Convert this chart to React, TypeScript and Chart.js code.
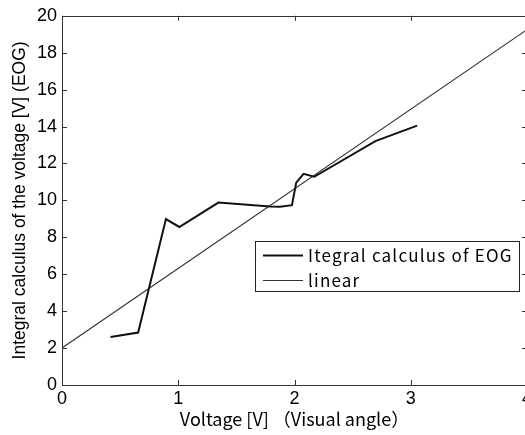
import React, { useEffect, useRef } from "react";
import { Chart, registerables } from "chart.js";

Chart.register(...registerables);

const eogX = [0.417, 0.655, 0.894, 1.009, 1.345, 1.79, 1.877, 1.978, 2.015, 2.078, 2.17, 2.696, 3.055];
const eogY = [2.6, 2.84, 8.99, 8.56, 9.88, 9.67, 9.65, 9.74, 10.96, 11.44, 11.28, 13.21, 14.05];
const linearX = [0, 4];
const linearY = [2.0, 19.25];
const seriesLabels = ["Itegral calculus of EOG", "linear"];
const xTitle = "Voltage [V] （Visual angle）";
const yTitle = "Integral calculus of the voltage [V] (EOG)";

const frameColor = "#333333";

const framePlugin = {
  id: "frameTicks",
  afterDraw(chart: any) {
    const { ctx, chartArea, scales } = chart;
    const { left, right, top, bottom } = chartArea;
    ctx.save();
    ctx.strokeStyle = frameColor;
    ctx.lineWidth = 1;
    ctx.beginPath();
    ctx.rect(Math.round(left) + 0.5, Math.round(top) + 0.5, Math.round(right - left), Math.round(bottom - top));
    ctx.stroke();
    const len = 5;
    ctx.beginPath();
    scales.x.ticks.forEach((t: any) => {
      const px = Math.round(scales.x.getPixelForValue(t.value)) + 0.5;
      ctx.moveTo(px, bottom);
      ctx.lineTo(px, bottom - len);
      ctx.moveTo(px, top);
      ctx.lineTo(px, top + len);
    });
    scales.y.ticks.forEach((t: any) => {
      const py = Math.round(scales.y.getPixelForValue(t.value)) + 0.5;
      ctx.moveTo(left, py);
      ctx.lineTo(left + len, py);
      ctx.moveTo(right, py);
      ctx.lineTo(right - len, py);
    });
    ctx.stroke();
    ctx.restore();
  },
};

const legendPlugin = {
  id: "boxLegend",
  afterDraw(chart: any) {
    const { ctx } = chart;
    const bx = 255.5, by = 241.5, bw = 264, bh = 50;
    ctx.save();
    ctx.fillStyle = "#ffffff";
    ctx.fillRect(bx, by, bw, bh);
    ctx.strokeStyle = "#222222";
    ctx.lineWidth = 1;
    ctx.strokeRect(bx, by, bw, bh);
    ctx.font = "17px 'Noto Sans CJK JP'";
    (ctx as any).letterSpacing = "1.2px";
    ctx.textBaseline = "middle";
    ctx.fillStyle = "#000000";
    chart.data.datasets.forEach((ds: any, i: number) => {
      const y = 255.5 + i * 25;
      ctx.strokeStyle = ds.borderColor;
      ctx.lineWidth = ds.borderWidth;
      ctx.beginPath();
      ctx.moveTo(263, y);
      ctx.lineTo(303, y);
      ctx.stroke();
      ctx.fillText(ds.label, 308, y);
    });
    (ctx as any).letterSpacing = "0px";
    ctx.restore();
  },
};

export default function App() {
  const ref = useRef<HTMLCanvasElement | null>(null);
  useEffect(() => {
    if (!ref.current) return;
    const chart = new Chart(ref.current, {
      type: "line",
      data: {
        datasets: [
          {
            label: seriesLabels[0],
            data: eogX.map((x, i) => ({ x, y: eogY[i] })),
            borderColor: "#111111",
            borderWidth: 2,
            pointRadius: 0,
            tension: 0,
          },
          {
            label: seriesLabels[1],
            data: linearX.map((x, i) => ({ x, y: linearY[i] })),
            borderColor: "#333333",
            borderWidth: 1.2,
            pointRadius: 0,
            tension: 0,
          },
        ],
      },
      plugins: [framePlugin, legendPlugin],
      options: {
        responsive: false,
        animation: false,
        devicePixelRatio: 1,
        layout: { padding: { top: 15, right: 13, left: 0, bottom: 0 } },
        plugins: { legend: { display: false }, tooltip: { enabled: false } },
        scales: {
          x: {
            type: "linear",
            min: 0,
            max: 4,
            grid: { display: false, drawTicks: false },
            border: { display: false },
            ticks: {
              stepSize: 1,
              color: "#000",
              padding: 3,
              maxRotation: 0,
              font: { family: "'Liberation Sans', Arial", size: 18 },
            },
            title: {
              display: true,
              text: xTitle,
              color: "#000",
              padding: { top: 0, bottom: 5 },
              font: { family: "'Noto Sans CJK JP'", size: 18 },
            },
            afterFit: (s: any) => {
              s.height = 50;
            },
          },
          y: {
            type: "linear",
            min: 0,
            max: 20,
            grid: { display: false, drawTicks: false },
            border: { display: false },
            ticks: {
              stepSize: 2,
              color: "#000",
              padding: 5,
              font: { family: "'Liberation Sans', Arial", size: 18 },
            },
            title: {
              display: true,
              text: yTitle,
              color: "#000",
              padding: { top: 10, bottom: 0 },
              font: { family: "'Liberation Sans', Arial", size: 17.5 },
            },
            afterFit: (s: any) => {
              s.width = 62;
            },
          },
        },
      },
    });
    return () => chart.destroy();
  }, []);
  return (
    <div style={{ position: "fixed", left: 0, top: 0, width: 525, height: 435, overflow: "hidden", background: "#fff" }}>
      <canvas ref={ref} width={540} height={435} style={{ display: "block" }} />
    </div>
  );
}
